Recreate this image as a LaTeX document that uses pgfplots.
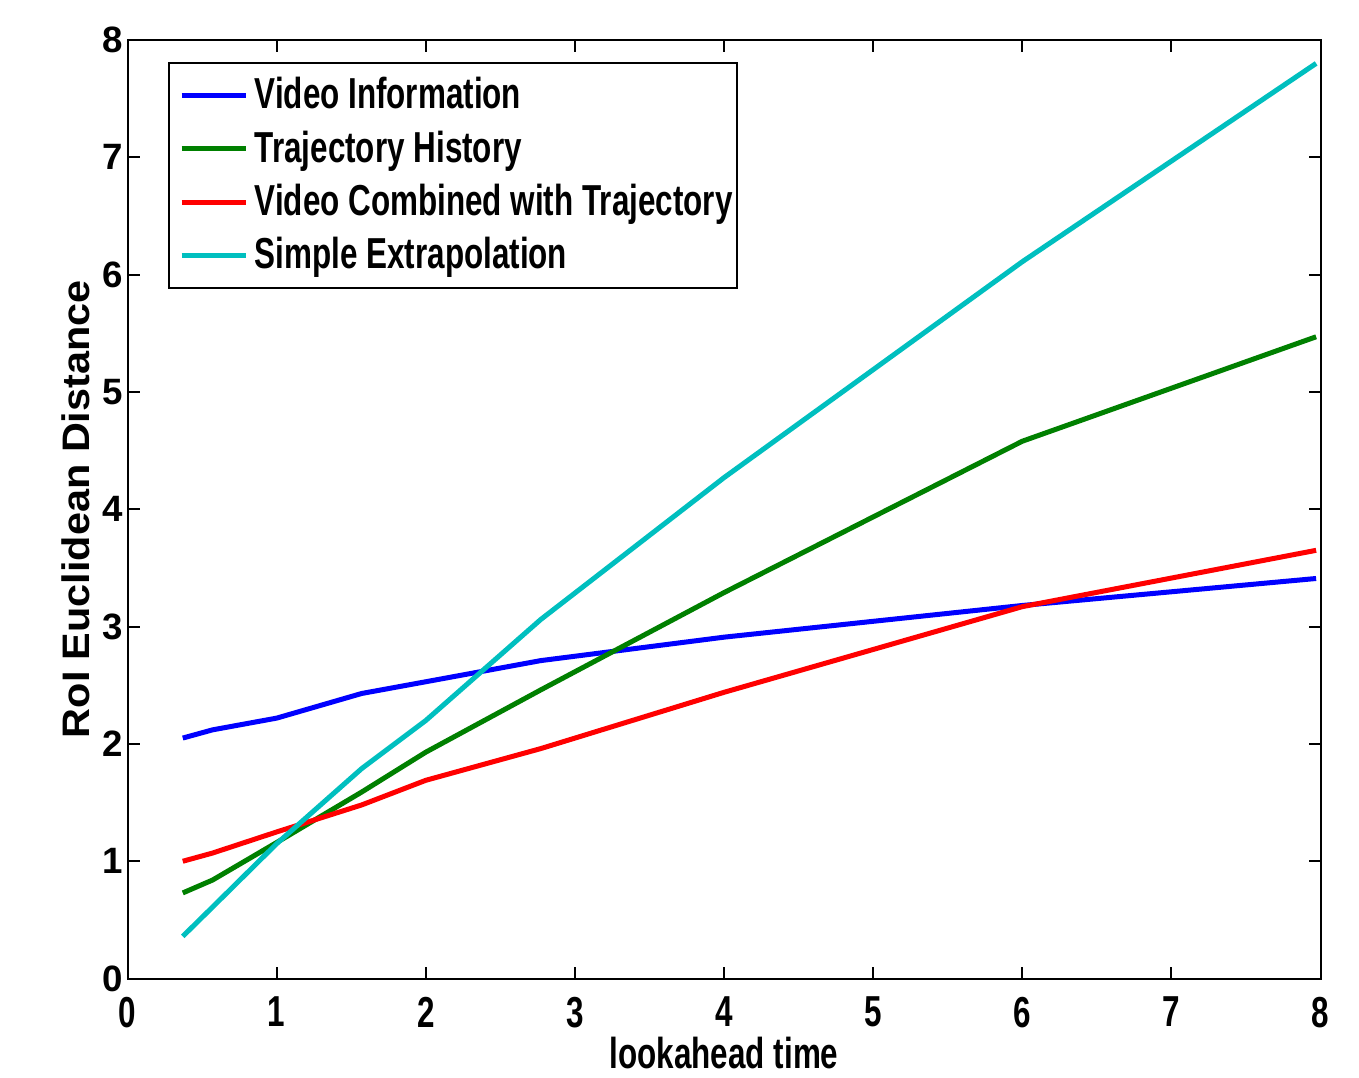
\documentclass[border=0pt]{standalone}
\usepackage{fontspec}
\setmainfont{Liberation Sans}
\newfontfamily\cond[FakeStretch=0.725]{Liberation Sans}
\newfontfamily\wide[FakeStretch=1.08]{Liberation Sans}
\usepackage{pgfplots}
\pgfplotsset{compat=1.18}
\definecolor{mblue}{RGB}{0,0,255}
\definecolor{mgreen}{RGB}{0,128,0}
\definecolor{mred}{RGB}{255,0,0}
\definecolor{mcyan}{RGB}{0,191,191}
\begin{document}
\begin{tikzpicture}
\begin{axis}[
  at={(0pt,0pt)}, anchor=south west,
  width=357.9pt, height=281.6pt, scale only axis,
  xmin=0, xmax=8, ymin=0, ymax=8,
  xtick={0,...,8}, ytick={0,...,8},
  tick align=inside, major tick length=3.6pt,
  axis line style={line width=0.6pt},
  every tick/.style={black, line width=0.6pt},
  /pgf/number format/assume math mode=true,
  xticklabel style={font=\cond\bfseries\fontsize{13}{15}\selectfont, yshift=-2pt},
  yticklabel style={font=\bfseries\fontsize{11}{12}\selectfont, xshift=2.2pt},
  xlabel={lookahead time},
  ylabel={RoI Euclidean Distance},
  xlabel style={font=\cond\bfseries\fontsize{13}{15}\selectfont, yshift=4pt},
  ylabel style={font=\wide\bfseries\fontsize{11.5}{13}\selectfont, yshift=-3pt},
  legend cell align=left,
  legend style={at={(rel axis cs:0.0339,0.9766)}, anchor=north west,
    draw=black, line width=0.6pt, inner xsep=3pt, inner ysep=2.3pt,
    font=\cond\bfseries\fontsize{13}{15}\selectfont,
    row sep=1.1pt},
  legend image code/.code={\draw[#1, line width=1.5pt] (0pt,0pt) -- (19.2pt,0pt);},
]
\addplot[mblue, line width=1.5pt] coordinates {(0.37,2.05) (0.57,2.12) (1,2.22) (1.57,2.43) (2,2.53) (2.77,2.71) (4,2.91) (6,3.18) (7.97,3.41)};
\addlegendentry{Video Information}
\addplot[mgreen, line width=1.5pt] coordinates {(0.37,0.73) (0.57,0.84) (1,1.16) (1.57,1.59) (2,1.93) (2.77,2.46) (4,3.29) (6,4.58) (7.97,5.47)};
\addlegendentry{Trajectory History}
\addplot[mred, line width=1.5pt] coordinates {(0.37,1.0) (0.57,1.07) (1,1.25) (1.57,1.48) (2,1.69) (2.77,1.96) (4,2.44) (6,3.17) (7.97,3.65)};
\addlegendentry{Video Combined with Trajectory\hspace*{-3.6pt}}
\addplot[mcyan, line width=1.5pt] coordinates {(0.37,0.36) (0.57,0.61) (1,1.15) (1.57,1.79) (2,2.2) (2.77,3.06) (4,4.27) (6,6.11) (7.97,7.80)};
\addlegendentry{Simple Extrapolation}
\end{axis}
\pgfresetboundingbox
\path[use as bounding box] (-38.28pt,-29.82pt) rectangle (369.42pt,293.58pt);
\end{tikzpicture}
\end{document}
